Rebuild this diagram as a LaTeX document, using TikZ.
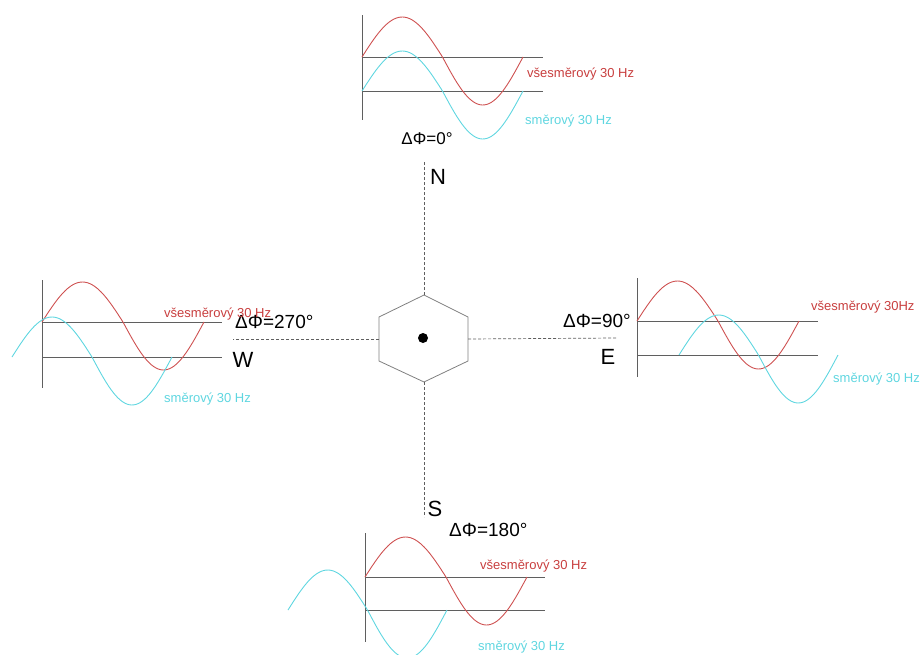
\documentclass[tikz,border=0pt]{standalone}
\usepackage{fontspec}
\setmainfont{Liberation Sans}
\definecolor{omnired}{RGB}{200,62,62}
\definecolor{dircyan}{RGB}{95,214,224}
\definecolor{axisgray}{RGB}{95,95,95}
\tikzset{
  axis/.style={axisgray, line width=0.9pt},
  omniwave/.style={omnired!90!white, line width=0.9pt, domain=0:1, samples=72},
  dirwave/.style={dircyan, line width=0.9pt, domain=0:1, samples=72},
  beam/.style={axisgray, line width=0.7pt, dash pattern=on 3pt off 2pt},
  compass/.style={font=\fontsize{22}{24}\selectfont, inner sep=0pt},
  phase/.style={font=\fontsize{19}{21}\selectfont, inner sep=0pt},
  omnitext/.style={omnired, font=\fontsize{13}{15}\selectfont, inner sep=0pt, anchor=base west},
  dirtext/.style={dircyan, font=\fontsize{13}{15}\selectfont, inner sep=0pt, anchor=base west}
}
\begin{document}
\begin{tikzpicture}[x=1pt, y=-1pt]
  \useasboundingbox (0,0) rectangle (921,654);
  % beacon
  \coordinate (hexT) at (424,295);
  \coordinate (hexTR) at (468,317);
  \coordinate (hexR) at (468,339);
  \coordinate (hexBR) at (468,361);
  \coordinate (hexB) at (424,382);
  \coordinate (hexBL) at (379,361);
  \coordinate (hexL) at (379,339);
  \coordinate (hexTL) at (379,317);
  \draw[gray, line width=0.8pt] (hexT) -- (hexTR) -- (hexR) -- (hexBR) -- (hexB) -- (hexBL) -- (hexL) -- (hexTL) -- cycle;
  \node[circle, fill, inner sep=0pt, minimum size=10pt] (hub) at (423,338) {};
  \coordinate (tipN) at (424,162);
  \coordinate (tipS) at (424,517);
  \coordinate (tipW) at (233,339);
  \coordinate (tipE) at (617,338);
  \draw[beam] (hexT) -- (tipN);
  \draw[beam] (hexB) -- (tipS);
  \draw[beam] (hexL) -- (tipW);
  \draw[beam] (hexR) -- (tipE);
  \node[compass] (labN) at (438,177) {N};
  \node[compass] (labS) at (435,509) {S};
  \node[compass] (labW) at (243,360) {W};
  \node[compass] (labE) at (608,357) {E};
  \node[phase, font=\fontsize{17}{19}\selectfont] (phiN) at (427,139) {ΔΦ=0°};
  \node[phase, anchor=west] (phiW) at (235,322) {ΔΦ=270°};
  \node[phase, anchor=east] (phiE) at (631,321) {ΔΦ=90°};
  \node[phase, anchor=west] (phiS) at (449,530) {ΔΦ=180°};
  % north
  \draw[axis] (362,15) -- (362,120);
  \draw[axis] (362,57) -- (543,57);
  \draw[axis] (362,91) -- (543,91);
  \draw[omniwave] plot ({362+\x*161}, {57-44*sin(\x*360)+4*abs(sin(\x*360))});
  \draw[dirwave] plot ({362+\x*161}, {91-44*sin(\x*360)+4*abs(sin(\x*360))});
  \node[omnitext] (omniN) at (527,77) {všesměrový 30 Hz};
  \node[dirtext] (dirN) at (525,124) {směrový 30 Hz};
  % west
  \draw[axis] (42,280) -- (42,388);
  \draw[axis] (42,322) -- (222,322);
  \draw[axis] (42,357) -- (222,357);
  \draw[omniwave] plot ({42+\x*162}, {322-44*sin(\x*360)+4*abs(sin(\x*360))});
  \draw[dirwave] plot ({12+\x*160}, {357-44*sin(\x*360)+4*abs(sin(\x*360))});
  \node[omnitext] (omniW) at (164,317) {všesměrový 30 Hz};
  \node[dirtext] (dirW) at (164,402) {směrový 30 Hz};
  % east
  \draw[axis] (637,278) -- (637,377);
  \draw[axis] (637,321) -- (818,321);
  \draw[axis] (637,355) -- (818,355);
  \draw[omniwave] plot ({637+\x*162}, {321-44*sin(\x*360)+4*abs(sin(\x*360))});
  \draw[dirwave] plot ({679+\x*159}, {355-44*sin(\x*360)+4*abs(sin(\x*360))});
  \node[omnitext] (omniE) at (811,310) {všesměrový 30Hz};
  \node[dirtext] (dirE) at (833,382) {směrový 30 Hz};
  % south
  \draw[axis] (365,533) -- (365,642);
  \draw[axis] (365,577) -- (545,577);
  \draw[axis] (365,610) -- (545,610);
  \draw[omniwave] plot ({365+\x*162}, {577-44*sin(\x*360)+4*abs(sin(\x*360))});
  \draw[dirwave] plot ({288+\x*159}, {610-44*sin(\x*360)+4*abs(sin(\x*360))});
  \node[omnitext] (omniS) at (480,569) {všesměrový 30 Hz};
  \node[dirtext] (dirS) at (478,650) {směrový 30 Hz};
\end{tikzpicture}
\end{document}
